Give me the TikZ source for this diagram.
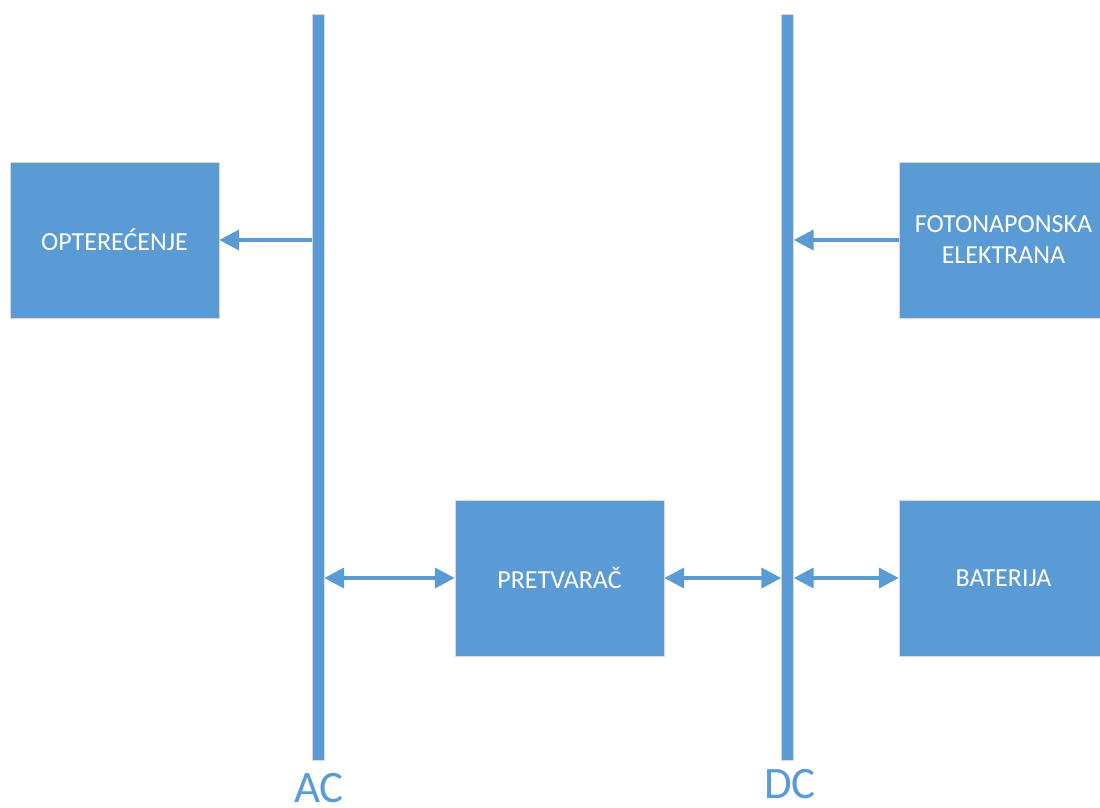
\documentclass[tikz,border=0pt]{standalone}
\usepackage{fontspec}
\setmainfont{Carlito}
\usetikzlibrary{arrows.meta}
\definecolor{busblue}{HTML}{5B9BD5}
\tikzset{
  block/.style={draw=black!15, fill=busblue, text=white, align=center,
    minimum width=209pt, minimum height=156pt, inner sep=0pt,
    font=\fontsize{26}{31}\selectfont},
  bus/.style={draw=black!15, fill=busblue, minimum width=12pt,
    minimum height=746pt, inner sep=0pt},
  busname/.style={text=busblue, inner sep=0pt, font=\fontsize{45}{50}\selectfont},
  flow/.style={draw=busblue, line width=4pt,
    -{Triangle[length=20pt,width=20pt]}},
  both/.style={flow, {Triangle[length=20pt,width=20pt]}-{Triangle[length=20pt,width=20pt]}}
}
\begin{document}
\begin{tikzpicture}[x=1pt, y=-1pt]
    \useasboundingbox (0,0) rectangle (1100,807);
    \node[bus] (AC) at (318,387) {};
    \node[bus] (DC) at (787.5,387) {};

    \node[block] (O) at (114.5,240) {OPTEREĆENJE};
    \node[block] (P) at (559.5,578) {PRETVARAČ};
    \node[block] (F) at (1003.5,240) {FOTONAPONSKA\\ELEKTRANA};
    \node[block] (B) at (1003.5,578) {BATERIJA};

    \draw[flow] (AC.west |- O.east) -- (O.east);
    \draw[flow] (F.west) -- (DC.east |- F.west);
    \draw[both] (AC.east |- P.west) -- (P.west);
    \draw[both] (P.east) -- (DC.west |- P.east);
    \draw[both] (DC.east |- B.west) -- (B.west);

    \node[busname] (ACn) at (319,788) {AC};
    \node[busname] (DCn) at (790,784) {DC};
\end{tikzpicture}
\end{document}
